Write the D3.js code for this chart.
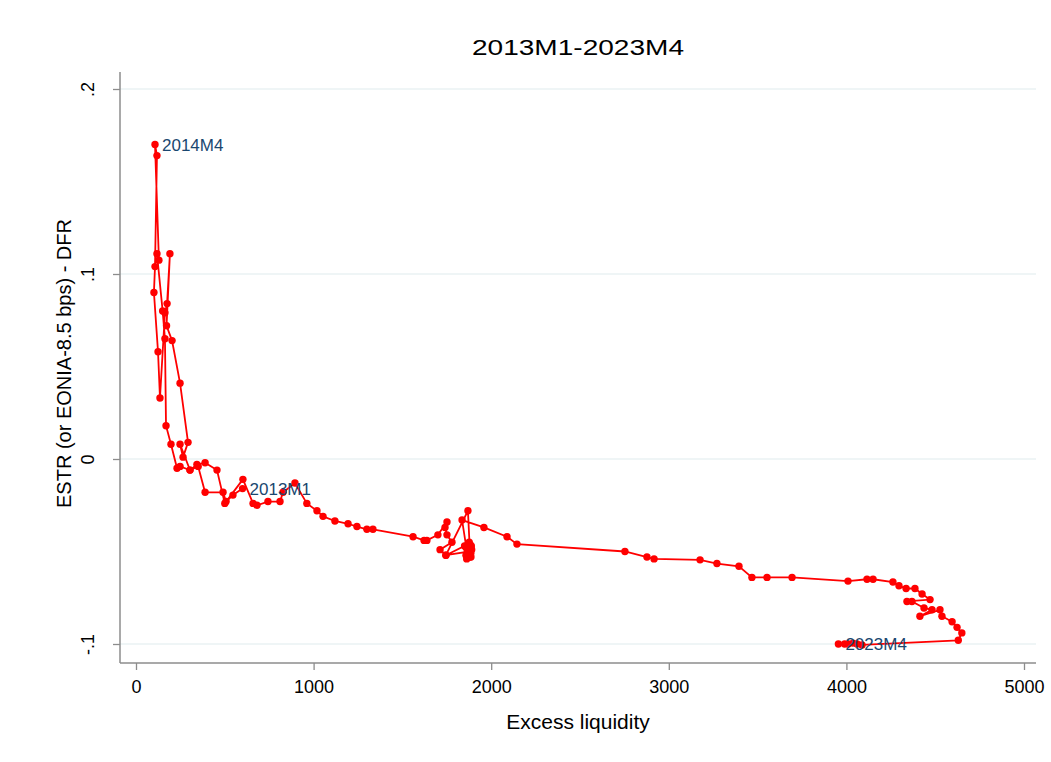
<!DOCTYPE html>
<html>
<head>
<meta charset="utf-8">
<script src="https://cdn.jsdelivr.net/npm/d3@7"></script>
<style>
  body { margin: 0; background: #fff; }
  text { font-family: "Liberation Sans", Arial, sans-serif; }
</style>
</head>
<body>
<div id="chart"></div>
<script>
// months 2013M1 .. 2023M4
var months = [];
for (var yr = 2013; yr <= 2023; yr++) {
  for (var m = 1; m <= 12; m++) {
    if (yr == 2023 && m > 4) break;
    months.push(yr + "M" + m);
  }
}

// excess liquidity (bn EUR)
var excessLiquidity = [
  600, 546, 507, 490, 389, 350, 304, 248, 231, 197, 169, 163,      // 2013
  150, 118, 129, 107, 118, 107, 101, 124, 135, 163, 175, 191,      // 2014
  172, 203, 248, 293, 265, 248, 304, 343, 389, 456, 500, 602,      // 2015
  659, 681, 743, 811, 828, 895, 962, 1019, 1053, 1120, 1194, 1244, // 2016
  1300, 1334, 1560, 1622, 1638, 1700, 1751, 1740, 1751, 1779, 1712, 1745, // 2017
  1850, 1870, 1880, 1862, 1885, 1868, 1890, 1858, 1876, 1880, 1866, 1888, // 2018
  1872, 1884, 1860, 1878, 1870, 1886, 1875, 1745, 1869, 1880, 1872, 1885, // 2019
  1865, 1836, 1959, 2089, 2145, 2753, 2877, 2917, 3176, 3271, 3395, 3468, // 2020
  3553, 3694, 4009, 4116, 4150, 4262, 4296, 4336, 4386, 4426, 4471, 4341, // 2021
  4369, 4437, 4482, 4414, 4527, 4538, 4595, 4623, 4650, 4630, 4088, 4060, // 2022
  4037, 4010, 3990, 3955                                           // 2023
];

// ESTR (or EONIA - 8.5 bps) - DFR
var spread = [
  -0.016, -0.0195, -0.023, -0.018, -0.018, -0.004, -0.006, -0.004, -0.005, 0.008, 0.018, 0.065,
  0.080, 0.111, 0.1075, 0.170, 0.164, 0.104, 0.090, 0.058, 0.033, 0.079, 0.084, 0.111,
  0.072, 0.064, 0.041, 0.009, 0.001, 0.008, -0.006, -0.003, -0.002, -0.006, -0.024, -0.011,
  -0.024, -0.025, -0.023, -0.023, -0.018, -0.013, -0.024, -0.028, -0.031, -0.0335, -0.035, -0.0365,
  -0.038, -0.038, -0.042, -0.044, -0.044, -0.041, -0.034, -0.037, -0.041, -0.045, -0.049, -0.052,
  -0.047, -0.050, -0.046, -0.054, -0.051, -0.048, -0.049, -0.052, -0.045, -0.053, -0.050, -0.047,
  -0.052, -0.049, -0.048, -0.051, -0.046, -0.053, -0.050, -0.052, -0.028, -0.050, -0.053, -0.048,
  -0.051, -0.033, -0.037, -0.042, -0.046, -0.050, -0.053, -0.054, -0.0545, -0.0565, -0.058, -0.064,
  -0.064, -0.064, -0.066, -0.065, -0.065, -0.0665, -0.0685, -0.070, -0.070, -0.073, -0.076, -0.077,
  -0.077, -0.0805, -0.0815, -0.085, -0.0815, -0.085, -0.088, -0.091, -0.094, -0.098, -0.1005, -0.100,
  -0.0995, -0.100, -0.100, -0.100
];

var labelled = ["2013M1", "2014M4", "2023M4"];
var xTicks = [0, 1000, 2000, 3000, 4000, 5000];
var yTicks = [-0.1, 0, 0.1, 0.2];
var yTickLabels = ["-.1", "0", ".1", ".2"];

var data = months.map(function(d, i) {
  return {month: d, x: excessLiquidity[i], y: spread[i]};
});

var W = 1051, H = 762;
var plot = {left: 120, right: 1036, top: 72, bottom: 663};

var svg = d3.select("#chart").append("svg")
  .attr("width", W)
  .attr("height", H);

svg.append("rect").attr("width", W).attr("height", H).attr("fill", "#fff");

// scales (a little inner margin like Stata)
var x = d3.scaleLinear().domain([0, 5000]).range([136, 1024]);
var y = d3.scaleLinear().domain([-0.1, 0.2]).range([644, 89]);

// gridlines
svg.append("g")
  .selectAll("line")
  .data(yTicks)
  .enter().append("line")
  .attr("x1", plot.left).attr("x2", plot.right)
  .attr("y1", function(d) { return y(d); })
  .attr("y2", function(d) { return y(d); })
  .attr("stroke", "#eaf2f3")
  .attr("stroke-width", 1.5);

// x axis
var gx = svg.append("g")
  .attr("transform", "translate(0," + plot.bottom + ")")
  .call(d3.axisBottom(x).tickValues(xTicks).tickSize(7).tickPadding(10).tickFormat(d3.format("d")));
gx.select(".domain").remove();
gx.selectAll(".tick line").attr("stroke", "#8c8c8c").attr("stroke-width", 1.3);
gx.selectAll("text").style("font-size", "18px").attr("fill", "#000");
svg.append("line")
  .attr("x1", plot.left).attr("x2", plot.right)
  .attr("y1", plot.bottom).attr("y2", plot.bottom)
  .attr("stroke", "#8c8c8c").attr("stroke-width", 1.5);

// y axis, Stata style rotated tick labels
var gy = svg.append("g")
  .attr("transform", "translate(" + plot.left + ",0)")
  .call(d3.axisLeft(y).tickValues(yTicks).tickSize(7).tickFormat(function(d, i) { return yTickLabels[i]; }));
gy.select(".domain").remove();
gy.selectAll(".tick line").attr("stroke", "#8c8c8c").attr("stroke-width", 1.3);
gy.selectAll("text")
  .attr("x", 0).attr("dy", 0)
  .attr("transform", "translate(-26,0) rotate(-90)")
  .attr("text-anchor", "middle")
  .style("font-size", "18px")
  .attr("fill", "#000");
svg.append("line")
  .attr("x1", plot.left).attr("x2", plot.left)
  .attr("y1", plot.top).attr("y2", plot.bottom)
  .attr("stroke", "#8c8c8c").attr("stroke-width", 1.5);

// titles
svg.append("text")
  .attr("x", (plot.left + plot.right) / 2).attr("y", 55)
  .attr("text-anchor", "middle")
  .attr("textLength", 212)
  .attr("lengthAdjust", "spacingAndGlyphs")
  .style("font-size", "22px")
  .text("2013M1-2023M4");

svg.append("text")
  .attr("x", (plot.left + plot.right) / 2).attr("y", 729)
  .attr("text-anchor", "middle")
  .style("font-size", "21px")
  .text("Excess liquidity");

svg.append("text")
  .attr("transform", "translate(71," + ((plot.top + plot.bottom) / 2 - 4) + ") rotate(-90)")
  .attr("text-anchor", "middle")
  .style("font-size", "20px")
  .text("ESTR (or EONIA-8.5 bps) - DFR");

// connected line
var line = d3.line()
  .x(function(d) { return x(d.x); })
  .y(function(d) { return y(d.y); });

svg.append("path")
  .datum(data)
  .attr("d", line)
  .attr("fill", "none")
  .attr("stroke", "#ff0000")
  .attr("stroke-width", 1.8);

svg.append("g")
  .selectAll("circle")
  .data(data)
  .enter().append("circle")
  .attr("cx", function(d) { return x(d.x); })
  .attr("cy", function(d) { return y(d.y); })
  .attr("r", 3.7)
  .attr("fill", "#ff0000");

// marker labels
svg.append("g")
  .selectAll("text")
  .data(data.filter(function(d) { return labelled.indexOf(d.month) >= 0; }))
  .enter().append("text")
  .attr("x", function(d) { return x(d.x) + 7; })
  .attr("y", function(d) { return y(d.y); })
  .attr("dy", "0.36em")
  .style("font-size", "17px")
  .attr("fill", "#1a476f")
  .text(function(d) { return d.month; });
</script>
</body>
</html>
